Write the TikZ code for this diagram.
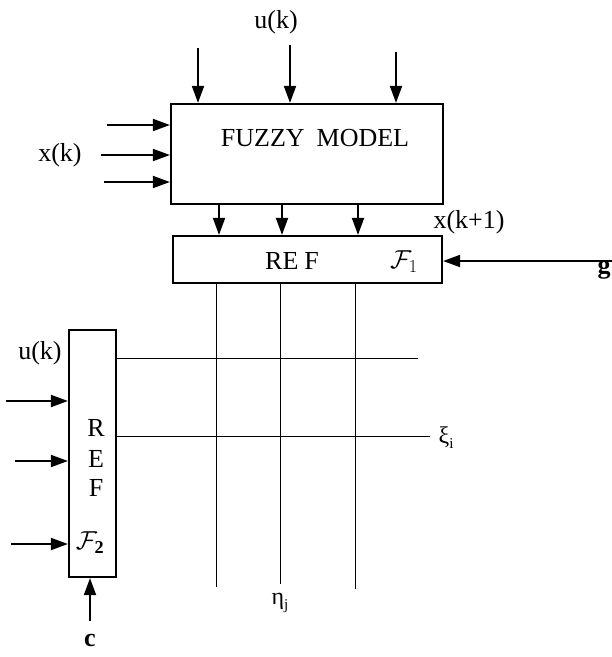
\RequirePackage{fix-cm}
\documentclass[tikz,border=0pt]{standalone}
\usepackage{fontspec}
\setmainfont{Liberation Serif}
\usetikzlibrary{arrows.meta}
\begin{document}
\begin{tikzpicture}[x=1pt,y=-1pt,
  box/.style={draw,line width=2.2pt,inner sep=0pt},
  arr/.style={line width=1.9pt,-{Triangle[length=17pt,width=12pt]}},
  gridline/.style={line width=0.9pt},
  lbl/.style={font=\fontsize{26}{29}\selectfont,inner sep=0pt},
  sml/.style={font=\fontsize{24}{26}\selectfont,inner sep=0pt}]
\useasboundingbox (0,0) rectangle (612,657);
% boxes
\node[box,minimum width=272pt,minimum height=100pt] (fm) at (307,154) {};
\node[box,minimum width=269pt,minimum height=47pt] (ref1) at (307.5,259.5) {};
\node[box,minimum width=47pt,minimum height=247pt] (ref2) at (92.5,453.5) {};
% texts
\node[lbl] (fmt) at (315,138) {FUZZY\hspace{12pt}MODEL};
\node[lbl] (r1t) at (292,261) {RE\hspace{6pt}F};
\node[lbl] (f1) at (404,262) {$\mathcal{F}_1$};
\node[lbl] (uk) at (276,22) {u(k)};
\node[lbl] (xk) at (60,155) {x(k)};
\node[lbl] (xk1) at (469,222) {x(k+1)};
\node[lbl] (g) at (604,270) {\textbf{g}};
\node[lbl] (uk2) at (40,353) {u(k)};
\node[lbl] (rR) at (96,428) {R};
\node[lbl] (rE) at (96,459) {E};
\node[lbl] (rF) at (96,488) {F};
\node[lbl] (f2) at (90,543) {$\mathcal{F}_{\mathbf{2}}$};
\node[lbl] (c) at (90,640) {\textbf{c}};
\node[sml] (xi) at (446,438) {ξ\raisebox{-5pt}{\fontsize{15}{15}\selectfont i}};
\node[sml] (eta) at (280,603) {η\raisebox{-5pt}{\fontsize{15}{15}\selectfont j}};
% coordinates
\coordinate (t1) at (198,48);
\coordinate (t2) at (290,45);
\coordinate (t3) at (396,52);
\coordinate (l1) at (107,125);
\coordinate (l2) at (101,155);
\coordinate (l3) at (104,182);
\coordinate (b1) at (219,0);
\coordinate (b2) at (282,0);
\coordinate (b3) at (358,0);
\coordinate (gs) at (612,261);
\coordinate (m1) at (6,401);
\coordinate (m2) at (15,461);
\coordinate (m3) at (11,544);
\coordinate (cs) at (90,621);
\coordinate (v1) at (216,587);
\coordinate (v2) at (280,584);
\coordinate (v3) at (355,589);
\coordinate (h1) at (418,358);
\coordinate (h2) at (430,436);
% arrows
\draw[arr] (t1) -- (t1 |- fm.north);
\draw[arr] (t2) -- (t2 |- fm.north);
\draw[arr] (t3) -- (t3 |- fm.north);
\draw[arr] (l1) -- (l1 -| fm.west);
\draw[arr] (l2) -- (l2 -| fm.west);
\draw[arr] (l3) -- (l3 -| fm.west);
\draw[arr] (fm.south -| b1) -- (ref1.north -| b1);
\draw[arr] (fm.south -| b2) -- (ref1.north -| b2);
\draw[arr] (fm.south -| b3) -- (ref1.north -| b3);
\draw[arr] (gs) -- (gs -| ref1.east);
\draw[arr] (m1) -- (m1 -| ref2.west);
\draw[arr] (m2) -- (m2 -| ref2.west);
\draw[arr] (m3) -- (m3 -| ref2.west);
\draw[arr] (cs) -- (cs |- ref2.south);
% grid
\draw[gridline] (ref1.south -| v1) -- (v1);
\draw[gridline] (ref1.south -| v2) -- (v2);
\draw[gridline] (ref1.south -| v3) -- (v3);
\draw[gridline] (ref2.east |- h1) -- (h1);
\draw[gridline] (ref2.east |- h2) -- (h2);
\end{tikzpicture}
\end{document}
